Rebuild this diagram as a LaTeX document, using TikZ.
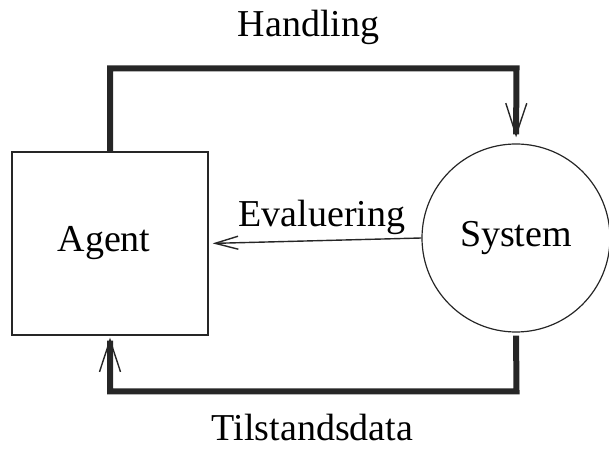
\documentclass[tikz,border=0pt]{standalone}
\usepackage{fontspec}
\setmainfont{Liberation Serif}
\usetikzlibrary{arrows.meta}

\begin{document}
\begin{tikzpicture}[x=1pt,y=1pt,
    tekst/.style={font=\fontsize{38}{44}\selectfont},
    tykk/.style={line width=6pt,draw=black!85,-{Straight Barb[length=32pt,width=21pt,line width=1.4pt]}},
    tynn/.style={line width=1.4pt,draw=black!85,-{Straight Barb[length=23pt,width=13pt,line width=1.4pt]}}]
    \useasboundingbox (0,0) rectangle (609,449);
    \node[tekst,draw=black!85,line width=1.2pt,minimum width=196pt,minimum height=183pt,inner sep=0pt] (agent) at (110,205.5) {\hspace*{-12pt}Agent};
    \node[tekst,draw=black!85,line width=1.2pt,circle,minimum size=188pt,inner sep=0pt] (system) at (516,211) {System};
    \coordinate (oppV) at (110,380.5);
    \coordinate (oppH) at (516.5,380.5);
    \coordinate (nedV) at (110,57.5);
    \coordinate (nedH) at (516.5,57.5);
    \draw[tykk,shorten >=6pt] (agent.north) -- (oppV) -- (oppH) -- (system.north); % handling
    \draw[tykk,shorten <=3pt,shorten >=2pt] (system.south) -- (nedH) -- (nedV) -- (agent.south); % tilstandsdata
    \draw[tynn,shorten >=4pt] (system.west) -- node[tekst,above,xshift=7pt,yshift=2pt] (eval) {Evaluering} (agent.east);
    \node[tekst,anchor=base] (handling) at (308.5,412) {Handling};
    \node[tekst,anchor=base,inner sep=0pt] (tilstand) at (312.5,9) {Tilstandsdata};
\end{tikzpicture}
\end{document}
